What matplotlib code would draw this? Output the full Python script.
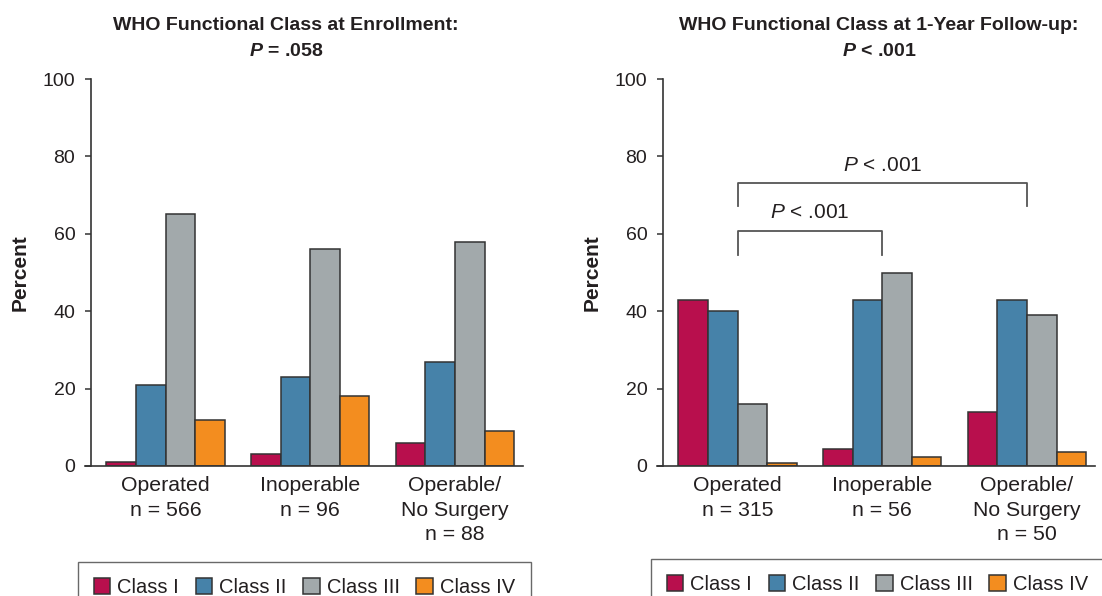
import matplotlib
matplotlib.use('Agg')
import matplotlib.pyplot as plt
import numpy as np

plt.rcParams['font.family'] = ['Liberation Sans', 'DejaVu Sans']
plt.rcParams['mathtext.fontset'] = 'custom'
plt.rcParams['mathtext.rm'] = 'Liberation Sans'
plt.rcParams['mathtext.it'] = 'Liberation Sans:italic'
plt.rcParams['mathtext.bf'] = 'Liberation Sans:italic:bold'

# ---------------- data ----------------
classes = ['Class I', 'Class II', 'Class III', 'Class IV']
colors = ['#B80F4D', '#4682A9', '#A2A9AB', '#F38D1F']

groups_enroll = ['Operated\nn = 566', 'Inoperable\nn = 96', 'Operable/\nNo Surgery\nn = 88']
groups_follow = ['Operated\nn = 315', 'Inoperable\nn = 56', 'Operable/\nNo Surgery\nn = 50']

enroll_class1 = [1, 3, 6]
enroll_class2 = [21, 23, 27]
enroll_class3 = [65, 56, 58]
enroll_class4 = [12, 18, 9]

follow_class1 = [43, 4.5, 14]
follow_class2 = [40, 43, 43]
follow_class3 = [16, 50, 39]
follow_class4 = [0.8, 2.2, 3.6]

title_enroll = ['WHO Functional Class at Enrollment:', r'$\mathbf{P}$ = .058']
title_follow = ['WHO Functional Class at 1-Year Follow-up:', r'$\mathbf{P}$ < .001']

yticks = [0, 20, 40, 60, 80, 100]
ylabel = 'Percent'

# significance brackets (group index from, to, bracket level, leg bottom, text level)
brackets = [(0, 2, 73.2, 67.3, 76.3, r'$P$ < .001'),
            (0, 1, 60.6, 54.6, 64.0, r'$P$ < .001')]

# ---------------- figure ----------------
W, H = 1102, 596
fig = plt.figure(figsize=(W / 100, H / 100), dpi=100)
txt = '#231F20'
edge = '#333333'


def draw(ax, data, labels):
    x = np.arange(len(labels))
    w = 0.204
    for i, (vals, c, name) in enumerate(zip(data, colors, classes)):
        ax.bar(x + (i - 1.5) * w, vals, w, color=c, edgecolor=edge,
               linewidth=1.1, label=name, zorder=3)
    ax.set_xlim(-0.515, 2.47)
    ax.set_ylim(0, 100)
    for s in ['top', 'right', 'bottom']:
        ax.spines[s].set_visible(False)
    ax.spines['left'].set_color(edge)
    ax.spines['left'].set_linewidth(1.2)
    ax.plot([-0.014, 1], [0, 0], transform=ax.get_yaxis_transform(),
            clip_on=False, color=edge, lw=1.2, zorder=4)
    ax.set_yticks(yticks)
    ax.tick_params(axis='y', direction='out', length=4.3, width=1.1,
                   color=edge, pad=7, labelsize=14, labelcolor=txt)
    ax.set_xticks(x)
    ax.set_xticklabels(labels, linespacing=1.36)
    ax.tick_params(axis='x', length=0, pad=7.5, labelsize=15.3, labelcolor=txt)
    ax.set_ylabel(ylabel, fontsize=15, fontweight='bold', color=txt)
    ax.yaxis.set_label_coords(-0.141, 0.5)


ax1 = fig.add_axes([91 / W, 1 - 466 / H, 432 / W, 387 / H])
ax2 = fig.add_axes([663 / W, 1 - 466 / H, 432 / W, 387 / H])

draw(ax1, [enroll_class1, enroll_class2, enroll_class3, enroll_class4], groups_enroll)
draw(ax2, [follow_class1, follow_class2, follow_class3, follow_class4], groups_follow)

for cx, lines in [(286, title_enroll), (879, title_follow)]:
    fig.text(cx / W, 1 - 29.5 / H, lines[0], ha='center', va='baseline',
             fontsize=14, fontweight='bold', color=txt)
    fig.text(cx / W, 1 - 56.5 / H, lines[1], ha='center', va='baseline',
             fontsize=14, fontweight='bold', color=txt)

for g0, g1, lvl, bot, tl, label in brackets:
    ax2.plot([g0, g0, g1, g1], [bot, lvl, lvl, bot], color='#555555', lw=1.3,
             clip_on=False, zorder=5)
    ax2.text((g0 + g1) / 2, tl, label, ha='center', va='baseline',
             fontsize=15, color=txt)

for ax, lx, ly in [(ax1, 78, 562), (ax2, 651, 559)]:
    leg = ax.legend(loc='upper left', bbox_to_anchor=(lx / W, 1 - ly / H),
                    bbox_transform=fig.transFigure, ncol=4, fontsize=14.5,
                    frameon=True, fancybox=False, borderaxespad=0,
                    handlelength=0.8, handleheight=0.8, handletextpad=0.36,
                    columnspacing=0.83, borderpad=0.8)
    leg.get_frame().set_edgecolor('#444444')
    leg.get_frame().set_linewidth(1.0)
    for t in leg.get_texts():
        t.set_color(txt)

fig.savefig('out.png', dpi=100)
